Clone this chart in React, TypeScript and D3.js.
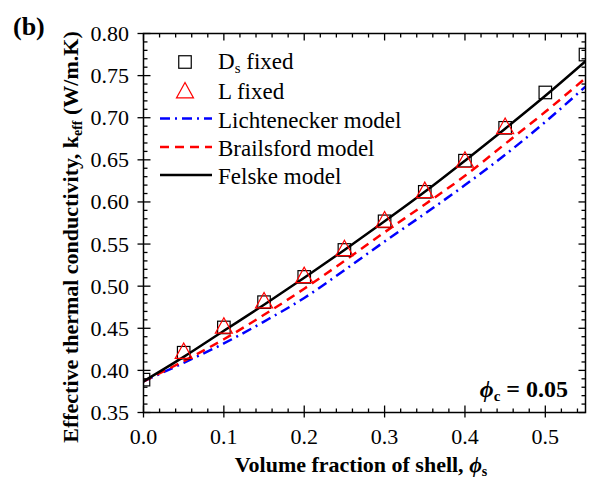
import React from 'react';
import * as d3 from 'd3';

const phiS = [0, 0.05, 0.1, 0.15, 0.2, 0.25, 0.3, 0.35, 0.4, 0.45, 0.5, 0.55];
const dsFixed = [0.389, 0.421, 0.451, 0.481, 0.511, 0.543, 0.577, 0.612, 0.649, 0.688, 0.73, 0.775];
const phiL = [0.05, 0.1, 0.15, 0.2, 0.25, 0.3, 0.35, 0.4, 0.45];
const lFixed = [0.423, 0.453, 0.483, 0.513, 0.545, 0.579, 0.614, 0.65, 0.69];
const lichtenecker = [0.387, 0.409, 0.432, 0.458, 0.486, 0.519, 0.553, 0.586, 0.62, 0.656, 0.695, 0.737];
const brailsford = [0.387, 0.411, 0.437, 0.466, 0.497, 0.53, 0.564, 0.597, 0.631, 0.669, 0.707, 0.747];
const felske = [0.387, 0.416, 0.447, 0.478, 0.51, 0.543, 0.577, 0.612, 0.649, 0.687, 0.726, 0.767];
const xTickValues = [0, 0.1, 0.2, 0.3, 0.4, 0.5];
const xTickLabels = ['0.0', '0.1', '0.2', '0.3', '0.4', '0.5'];
const yTickValues = [0.35, 0.4, 0.45, 0.5, 0.55, 0.6, 0.65, 0.7, 0.75, 0.8];
const yTickLabels = ['0.35', '0.40', '0.45', '0.50', '0.55', '0.60', '0.65', '0.70', '0.75', '0.80'];

const FONT = '"Liberation Serif", "Times New Roman", serif';

export default function App() {
  const W = 590, H = 480;
  const left = 143.5, right = 585.5, top = 33.5, bottom = 412.5;
  const x = d3.scaleLinear().domain([0, 0.55]).range([left, right]);
  const y = d3.scaleLinear().domain([0.35, 0.8]).range([bottom, top]);

  const lineGen = (vals: number[]) =>
    d3.line<number>().x((_, i) => x(phiS[i])).y((d) => y(d)).curve(d3.curveMonotoneX)(vals) || '';

  const xMinor = d3.range(0, 0.5501, 0.02).filter((v) => !xTickValues.some((t) => Math.abs(t - v) < 1e-6));
  const yMinor = d3.range(0.35, 0.8001, 0.01).filter((v) => !yTickValues.some((t) => Math.abs(t - v) < 1e-6));

  const sq = 12.5;
  const tri = (cx: number, cy: number, w = 17, h = 15.5) =>
    `M${cx},${cy - h * 0.52}L${cx - w / 2},${cy + h * 0.48}L${cx + w / 2},${cy + h * 0.48}Z`;

  const tk = { stroke: '#000', strokeWidth: 1.3 };

  return (
    <svg width={W} height={H} style={{ position: 'absolute', left: 0, top: 0, background: '#fff' }} fontFamily={FONT}>
      <rect x={0} y={0} width={W} height={H} fill="#fff" />
      <defs>
        <clipPath id="plot">
          <rect x={left} y={top} width={right - left} height={bottom - top} />
        </clipPath>
      </defs>

      {/* ticks */}
      {xTickValues.map((v) => (
        <g key={'xt' + v}>
          <line x1={x(v)} x2={x(v)} y1={bottom + 5} y2={bottom - 7} {...tk} />
          <line x1={x(v)} x2={x(v)} y1={top} y2={top + 7} {...tk} />
        </g>
      ))}
      {xMinor.map((v) => (
        <g key={'xm' + v}>
          <line x1={x(v)} x2={x(v)} y1={bottom} y2={bottom - 4} {...tk} />
          <line x1={x(v)} x2={x(v)} y1={top} y2={top + 4} {...tk} />
        </g>
      ))}
      {yTickValues.map((v) => (
        <g key={'yt' + v}>
          <line x1={left - 6} x2={left + 7} y1={y(v)} y2={y(v)} {...tk} />
          <line x1={right - 7} x2={right} y1={y(v)} y2={y(v)} {...tk} />
        </g>
      ))}
      {yMinor.map((v) => (
        <g key={'ym' + v}>
          <line x1={left} x2={left + 4} y1={y(v)} y2={y(v)} {...tk} />
          <line x1={right - 4} x2={right} y1={y(v)} y2={y(v)} {...tk} />
        </g>
      ))}

      {/* tick labels */}
      {xTickValues.map((v, i) => (
        <text key={'xl' + v} x={x(v)} y={444} textAnchor="middle" fontSize={22}>{xTickLabels[i]}</text>
      ))}
      {yTickValues.map((v, i) => (
        <text key={'yl' + v} x={129} y={y(v) + 7.5} textAnchor="end" fontSize={22}>{yTickLabels[i]}</text>
      ))}

      {/* curves */}
      <g clipPath="url(#plot)">
        <path d={lineGen(lichtenecker)} fill="none" stroke="#0000ff" strokeWidth={2.5} strokeDasharray="10,5,2,5" />
        <path d={lineGen(brailsford)} fill="none" stroke="#ff0000" strokeWidth={2.5} strokeDasharray="9,6" />
        <path d={lineGen(felske)} fill="none" stroke="#000" strokeWidth={2.5} />
        {phiS.map((v, i) => (
          <rect key={'sq' + v} x={x(v) - sq / 2} y={y(dsFixed[i]) - sq / 2} width={sq} height={sq} fill="none" stroke="#000" strokeWidth={1.2} />
        ))}
        {phiL.map((v, i) => (
          <path key={'tr' + v} d={tri(x(v), y(lFixed[i]))} fill="none" stroke="#ff0000" strokeWidth={1.2} />
        ))}
      </g>

      {/* frame */}
      <rect x={left} y={top} width={right - left} height={bottom - top} fill="none" stroke="#000" strokeWidth={1.5} />

      {/* legend */}
      <rect x={185 - sq / 2} y={62 - sq / 2} width={sq} height={sq} fill="none" stroke="#000" strokeWidth={1.2} />
      <text x={218} y={68.5} fontSize={23}>D<tspan fontSize={15} dy={4}>s</tspan><tspan dy={-4}> fixed</tspan></text>
      <path d={tri(185, 90.5)} fill="none" stroke="#ff0000" strokeWidth={1.2} />
      <text x={218} y={99} fontSize={23}>L fixed</text>
      <line x1={160} x2={212} y1={118.5} y2={118.5} stroke="#0000ff" strokeWidth={2.5} strokeDasharray="10,5,2,5" />
      <text x={218} y={127.5} fontSize={23}>Lichtenecker model</text>
      <line x1={160} x2={212} y1={147} y2={147} stroke="#ff0000" strokeWidth={2.5} strokeDasharray="9,6" />
      <text x={218} y={156} fontSize={23}>Brailsford model</text>
      <line x1={160} x2={212} y1={175} y2={175} stroke="#000" strokeWidth={2.5} />
      <text x={218} y={184} fontSize={23}>Felske model</text>

      {/* annotation */}
      <text x={568} y={397} textAnchor="end" fontSize={24} fontWeight="bold">
        <tspan fontStyle="italic">ϕ</tspan><tspan fontSize={15} dy={4}>c</tspan><tspan dy={-4}> = 0.05</tspan>
      </text>

      {/* panel label */}
      <text x={13} y={35} fontSize={26} fontWeight="bold">(b)</text>

      {/* axis titles */}
      <text x={361} y={472} textAnchor="middle" fontSize={22} fontWeight="bold">
        Volume fraction of shell, <tspan fontStyle="italic">ϕ</tspan><tspan fontSize={14} dy={4}>s</tspan>
      </text>
      <text transform="translate(78,237) rotate(-90)" textAnchor="middle" fontSize={22} fontWeight="bold">
        Effective thermal conductivity, k<tspan fontSize={14} dy={4}>eff</tspan><tspan dy={-4}> (W/m.K)</tspan>
      </text>
    </svg>
  );
}
